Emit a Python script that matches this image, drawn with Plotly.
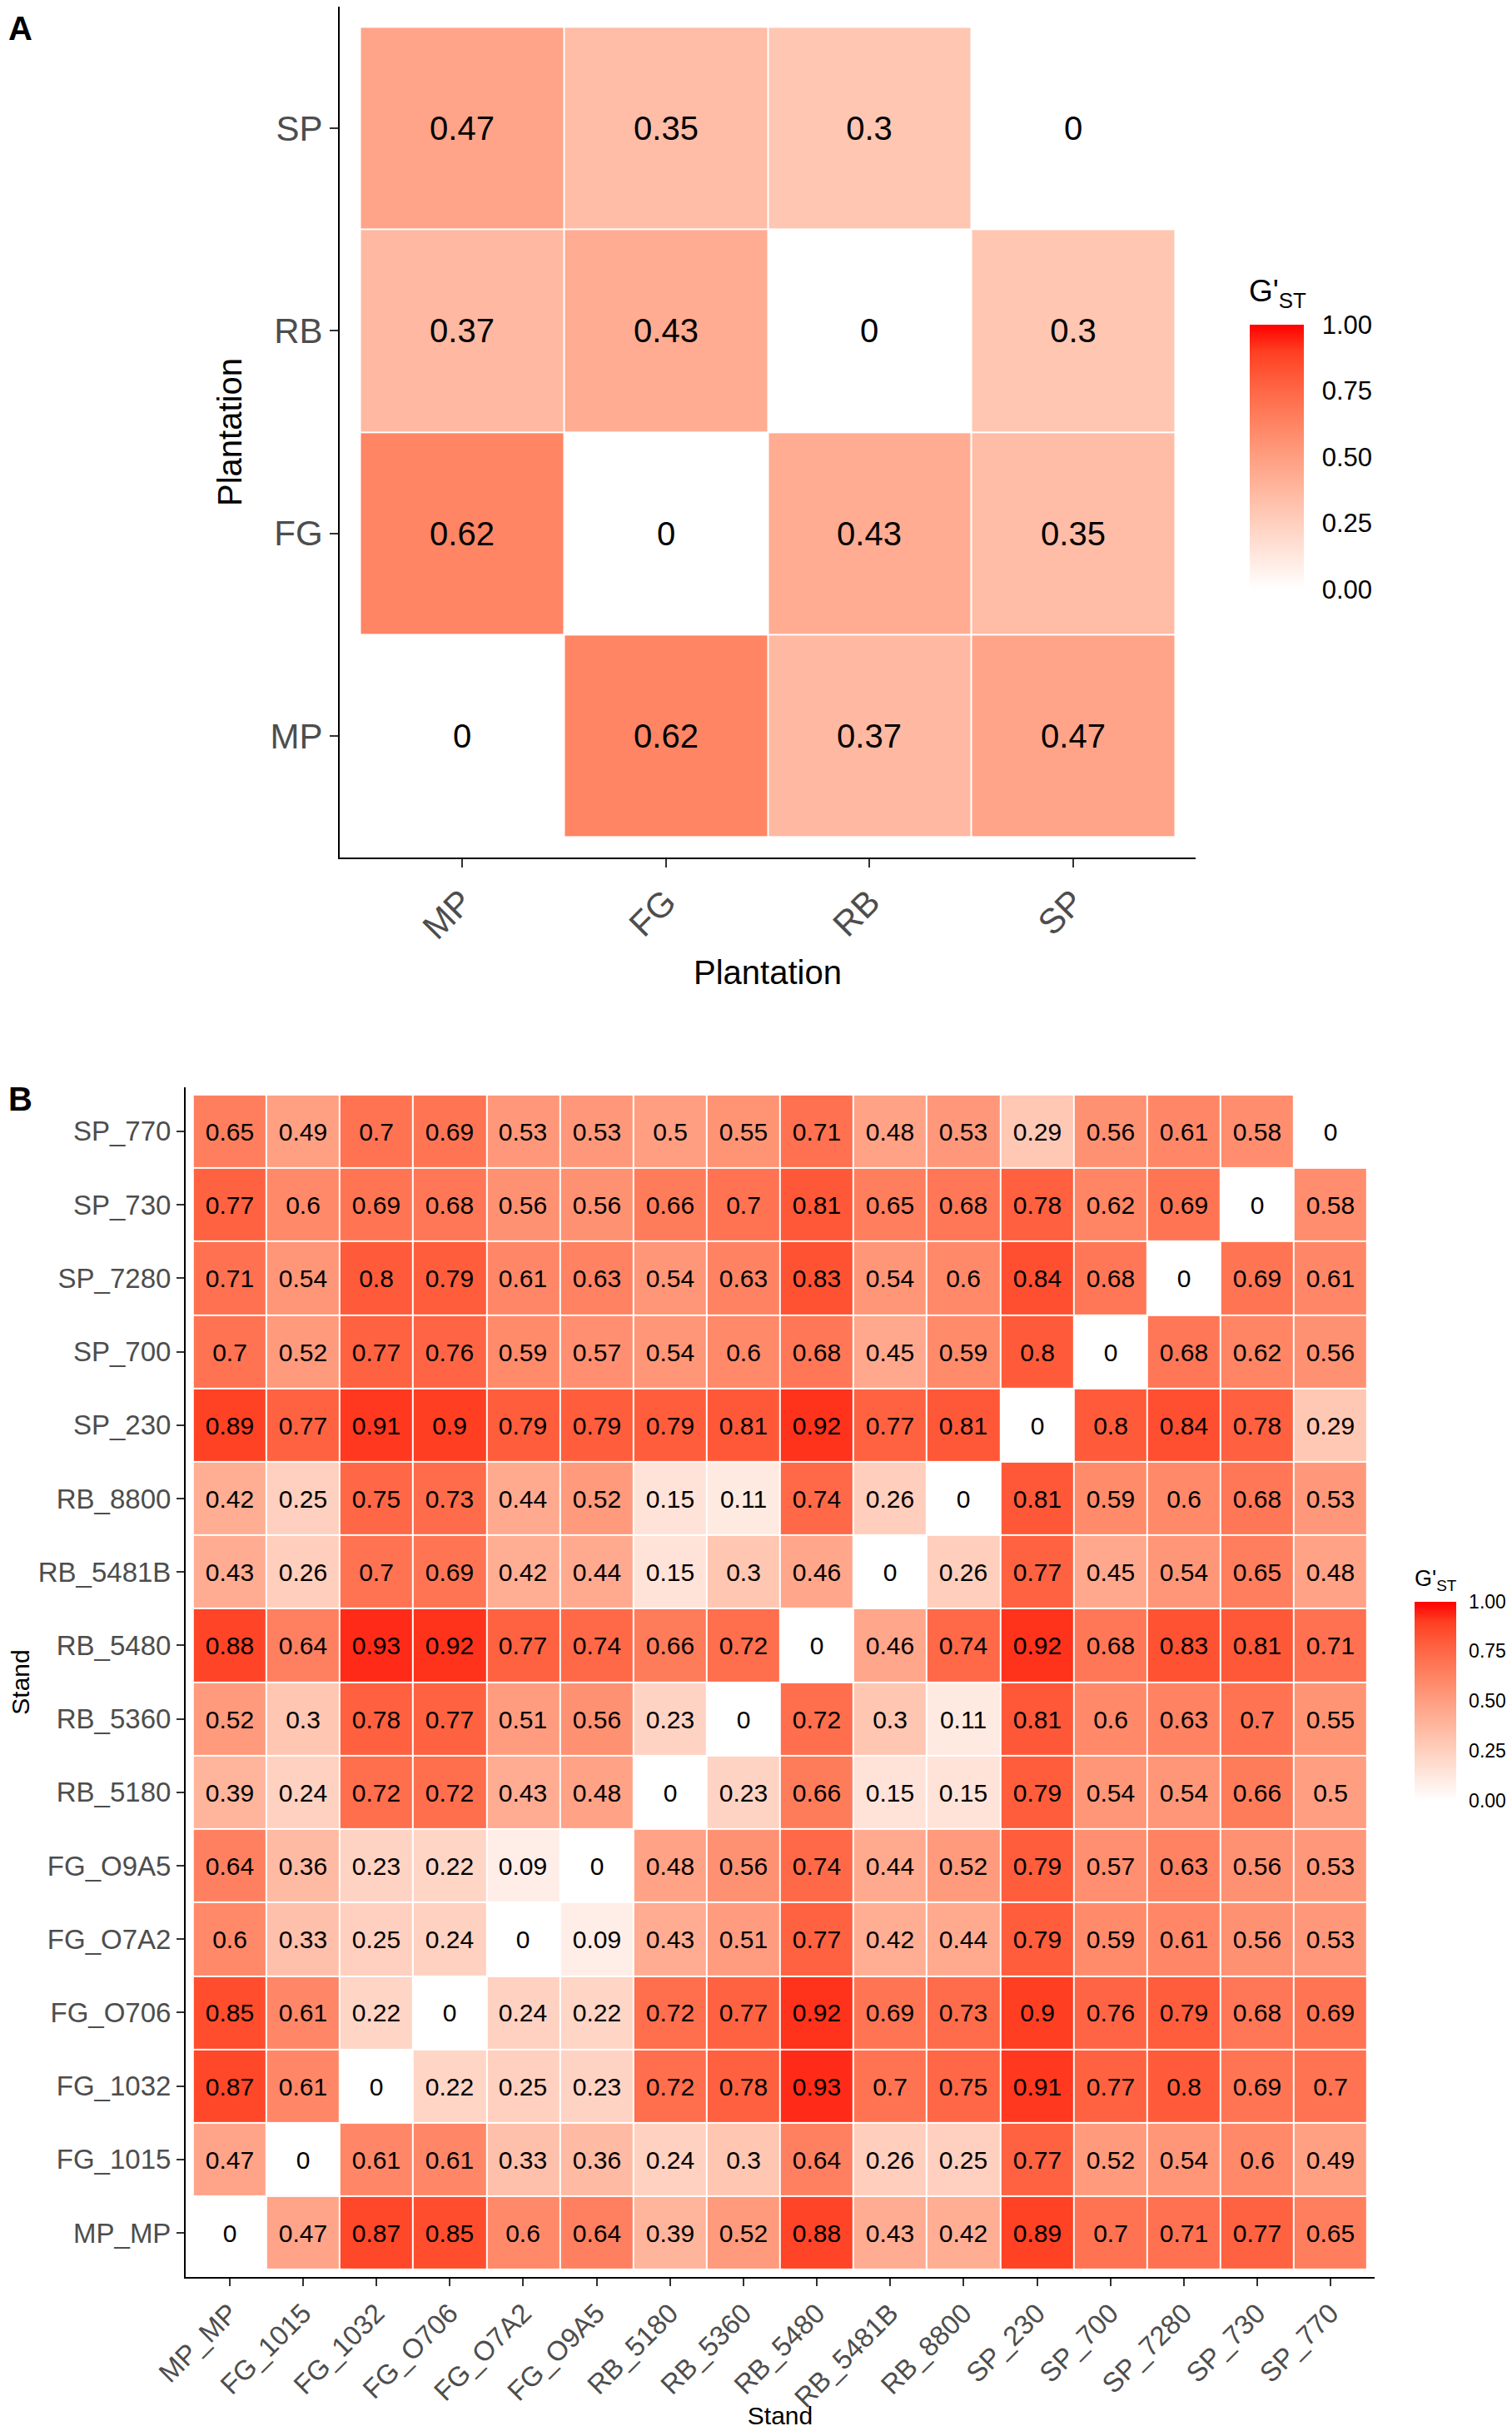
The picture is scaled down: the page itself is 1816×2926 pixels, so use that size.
import plotly.graph_objects as go

# ---- data ----
plantations = ["MP", "FG", "RB", "SP"]
# rows follow plantations (bottom -> top), columns follow plantations (left -> right)
gst_plantation = [
    [0, 0.62, 0.37, 0.47],
    [0.62, 0, 0.43, 0.35],
    [0.37, 0.43, 0, 0.3],
    [0.47, 0.35, 0.3, 0],
]

stands = ["MP_MP", "FG_1015", "FG_1032", "FG_O706", "FG_O7A2", "FG_O9A5",
          "RB_5180", "RB_5360", "RB_5480", "RB_5481B", "RB_8800",
          "SP_230", "SP_700", "SP_7280", "SP_730", "SP_770"]
# rows follow stands (bottom -> top), columns follow stands (left -> right)
gst_stand = [
    [0, 0.47, 0.87, 0.85, 0.6, 0.64, 0.39, 0.52, 0.88, 0.43, 0.42, 0.89, 0.7, 0.71, 0.77, 0.65],
    [0.47, 0, 0.61, 0.61, 0.33, 0.36, 0.24, 0.3, 0.64, 0.26, 0.25, 0.77, 0.52, 0.54, 0.6, 0.49],
    [0.87, 0.61, 0, 0.22, 0.25, 0.23, 0.72, 0.78, 0.93, 0.7, 0.75, 0.91, 0.77, 0.8, 0.69, 0.7],
    [0.85, 0.61, 0.22, 0, 0.24, 0.22, 0.72, 0.77, 0.92, 0.69, 0.73, 0.9, 0.76, 0.79, 0.68, 0.69],
    [0.6, 0.33, 0.25, 0.24, 0, 0.09, 0.43, 0.51, 0.77, 0.42, 0.44, 0.79, 0.59, 0.61, 0.56, 0.53],
    [0.64, 0.36, 0.23, 0.22, 0.09, 0, 0.48, 0.56, 0.74, 0.44, 0.52, 0.79, 0.57, 0.63, 0.56, 0.53],
    [0.39, 0.24, 0.72, 0.72, 0.43, 0.48, 0, 0.23, 0.66, 0.15, 0.15, 0.79, 0.54, 0.54, 0.66, 0.5],
    [0.52, 0.3, 0.78, 0.77, 0.51, 0.56, 0.23, 0, 0.72, 0.3, 0.11, 0.81, 0.6, 0.63, 0.7, 0.55],
    [0.88, 0.64, 0.93, 0.92, 0.77, 0.74, 0.66, 0.72, 0, 0.46, 0.74, 0.92, 0.68, 0.83, 0.81, 0.71],
    [0.43, 0.26, 0.7, 0.69, 0.42, 0.44, 0.15, 0.3, 0.46, 0, 0.26, 0.77, 0.45, 0.54, 0.65, 0.48],
    [0.42, 0.25, 0.75, 0.73, 0.44, 0.52, 0.15, 0.11, 0.74, 0.26, 0, 0.81, 0.59, 0.6, 0.68, 0.53],
    [0.89, 0.77, 0.91, 0.9, 0.79, 0.79, 0.79, 0.81, 0.92, 0.77, 0.81, 0, 0.8, 0.84, 0.78, 0.29],
    [0.7, 0.52, 0.77, 0.76, 0.59, 0.57, 0.54, 0.6, 0.68, 0.45, 0.59, 0.8, 0, 0.68, 0.62, 0.56],
    [0.71, 0.54, 0.8, 0.79, 0.61, 0.63, 0.54, 0.63, 0.83, 0.54, 0.6, 0.84, 0.68, 0, 0.69, 0.61],
    [0.77, 0.6, 0.69, 0.68, 0.56, 0.56, 0.66, 0.7, 0.81, 0.65, 0.68, 0.78, 0.62, 0.69, 0, 0.58],
    [0.65, 0.49, 0.7, 0.69, 0.53, 0.53, 0.5, 0.55, 0.71, 0.48, 0.53, 0.29, 0.56, 0.61, 0.58, 0],
]

legend_ticks = [0, 0.25, 0.5, 0.75, 1]
legend_labels = ["0.00", "0.25", "0.50", "0.75", "1.00"]

# page is 1816x2926; the html body adds an 8px margin round the figure
PAD = 8
W, H = 1816 - 2 * PAD, 2926 - 2 * PAD
FONT = "Liberation Sans, Arial, Helvetica, sans-serif"


def lab_to_hex(L, a, b):
    # CIE Lab (D65) -> sRGB hex
    fy = (L + 16) / 116
    fx = fy + a / 500
    fz = fy - b / 200

    def finv(t):
        return t ** 3 if t ** 3 > 0.008856 else (t - 16 / 116) / 7.787

    X, Y, Z = 0.95047 * finv(fx), finv(fy), 1.08883 * finv(fz)
    r = 3.2406 * X - 1.5372 * Y - 0.4986 * Z
    g = -0.9689 * X + 1.8758 * Y + 0.0415 * Z
    bl = 0.0557 * X - 0.2040 * Y + 1.0570 * Z
    out = []
    for c in (r, g, bl):
        c = 1.055 * c ** (1 / 2.4) - 0.055 if c > 0.0031308 else 12.92 * c
        out.append(max(0, min(255, round(c * 255))))
    return "#%02x%02x%02x" % tuple(out)


# white -> red gradient interpolated in Lab, like ggplot's scale_fill_gradient
red_lab = (53.24, 80.09, 67.20)
colorscale = []
for i in range(11):
    t = i / 10
    colorscale.append([t, lab_to_hex(100 + (red_lab[0] - 100) * t, red_lab[1] * t, red_lab[2] * t)])


def px_x(p):
    # page pixel -> paper fraction
    return min(1.0, max(0.0, (p - PAD) / W))


def px_y(p):
    return min(1.0, max(0.0, 1 - (p - PAD) / H))


def cell_text(rows):
    return [[f"{v:g}" for v in row] for row in rows]


fig = go.Figure()

fig.add_trace(go.Heatmap(
    x=plantations, y=plantations, z=gst_plantation,
    text=cell_text(gst_plantation), texttemplate="%{text}",
    textfont=dict(family=FONT, size=40, color="black"),
    colorscale=colorscale, zmin=0, zmax=1, xgap=2, ygap=2,
    xaxis="x", yaxis="y",
    colorbar=dict(
        x=px_x(1501), xanchor="left", y=px_y(549), yanchor="middle",
        thickness=65, len=318, lenmode="pixels", xpad=0, ypad=0,
        outlinewidth=0, tickvals=legend_ticks, ticktext=legend_labels,
        ticks="outside", ticklen=16, tickcolor="rgba(0,0,0,0)",
        tickfont=dict(family=FONT, size=31, color="black"),
    ),
))

fig.add_trace(go.Heatmap(
    x=stands, y=stands, z=gst_stand,
    text=cell_text(gst_stand), texttemplate="%{text}",
    textfont=dict(family=FONT, size=30, color="black"),
    colorscale=colorscale, zmin=0, zmax=1, xgap=2, ygap=2,
    xaxis="x2", yaxis="y2",
    colorbar=dict(
        x=px_x(1699), xanchor="left", y=px_y(2043), yanchor="middle",
        thickness=50, len=239, lenmode="pixels", xpad=0, ypad=0,
        outlinewidth=0, tickvals=legend_ticks, ticktext=legend_labels,
        ticks="outside", ticklen=11, tickcolor="rgba(0,0,0,0)",
        tickfont=dict(family=FONT, size=23, color="black"),
    ),
))

axis_common = dict(
    type="category", showgrid=False, zeroline=False, showline=True,
    linecolor="black", linewidth=2, ticks="outside", tickcolor="#333333",
    tickwidth=2, mirror=False, fixedrange=True, automargin=False,
)

fig.update_layout(
    width=W, height=H,
    margin=dict(l=0, r=0, t=0, b=0, autoexpand=False),
    paper_bgcolor="white", plot_bgcolor="white",
    font=dict(family=FONT, color="black"),
    xaxis=dict(
        axis_common, domain=[px_x(408), px_x(1436)], anchor="y",
        categoryorder="array", categoryarray=plantations, range=[-0.6, 3.6],
        ticklen=10, tickangle=-45,
        tickfont=dict(family=FONT, size=42, color="#4D4D4D"),
        title=dict(text="Plantation", standoff=18, font=dict(family=FONT, size=40, color="black")),
    ),
    yaxis=dict(
        axis_common, domain=[px_y(1030), px_y(2)], anchor="x",
        categoryorder="array", categoryarray=plantations, range=[-0.6, 3.6],
        ticklen=10,
        tickfont=dict(family=FONT, size=42, color="#4D4D4D"),
        title=dict(text="Plantation", standoff=22, font=dict(family=FONT, size=40, color="black")),
    ),
    xaxis2=dict(
        axis_common, domain=[px_x(223), px_x(1651)], anchor="y2",
        categoryorder="array", categoryarray=stands, range=[-0.6, 15.6],
        ticklen=9, tickangle=-45,
        tickfont=dict(family=FONT, size=33, color="#4D4D4D"),
        title=dict(text="Stand", standoff=4, font=dict(family=FONT, size=30, color="black")),
    ),
    yaxis2=dict(
        axis_common, domain=[px_y(2735), px_y(1306)], anchor="x2",
        categoryorder="array", categoryarray=stands, range=[-0.6, 15.6],
        ticklen=9,
        tickfont=dict(family=FONT, size=33, color="#4D4D4D"),
        title=dict(text="Stand", standoff=12, font=dict(family=FONT, size=30, color="black")),
    ),
    annotations=[
        dict(text="<b>A</b>", xref="paper", yref="paper", x=px_x(8), y=px_y(10),
             xanchor="left", yanchor="top", showarrow=False,
             font=dict(family=FONT, size=40, color="black")),
        dict(text="<b>B</b>", xref="paper", yref="paper", x=px_x(8), y=px_y(1296),
             xanchor="left", yanchor="top", showarrow=False,
             font=dict(family=FONT, size=40, color="black")),
        dict(text="G'<sub>ST</sub>", xref="paper", yref="paper", x=px_x(1498), y=px_y(352),
             xanchor="left", yanchor="middle", showarrow=False,
             font=dict(family=FONT, size=37, color="black")),
        dict(text="G'<sub>ST</sub>", xref="paper", yref="paper", x=px_x(1697), y=px_y(1898),
             xanchor="left", yanchor="middle", showarrow=False,
             font=dict(family=FONT, size=27, color="black")),
    ],
)

fig.write_html("out.html")
